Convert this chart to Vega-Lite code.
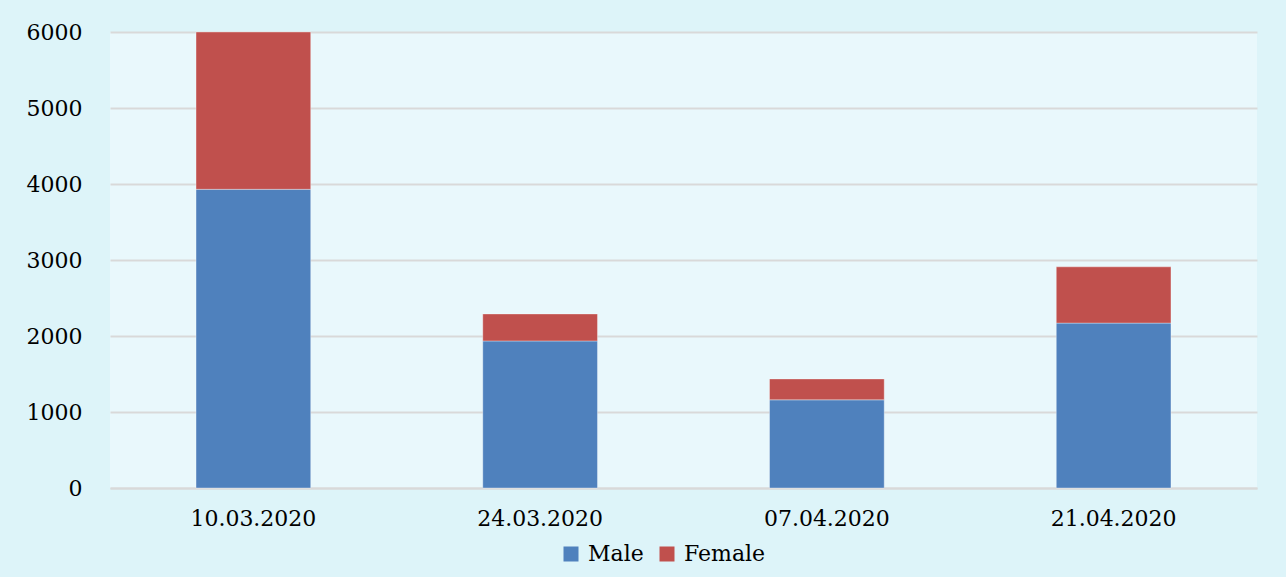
{
  "$schema": "https://vega.github.io/schema/vega-lite/v6.json",
  "width": 1147,
  "height": 456,
  "autosize": {"type": "none"},
  "padding": {"left": 110, "top": 32, "right": 29, "bottom": 89},
  "background": "#ddf4f9",
  "config": {
    "view": {"fill": "#e9f8fc", "stroke": null},
    "font": "DejaVu Serif",
    "axis": {"labelFont": "DejaVu Serif", "labelFontSize": 22, "labelColor": "#000000", "titleFont": "DejaVu Serif"},
    "legend": {"labelFont": "DejaVu Serif", "labelFontSize": 22, "labelColor": "#000000"}
  },
  "data": {
    "values": [
      {"date": "10.03.2020", "sex": "Male", "value": 3930},
      {"date": "10.03.2020", "sex": "Female", "value": 2070},
      {"date": "24.03.2020", "sex": "Male", "value": 1935},
      {"date": "24.03.2020", "sex": "Female", "value": 355},
      {"date": "07.04.2020", "sex": "Male", "value": 1160},
      {"date": "07.04.2020", "sex": "Female", "value": 275},
      {"date": "21.04.2020", "sex": "Male", "value": 2170},
      {"date": "21.04.2020", "sex": "Female", "value": 740}
    ]
  },
  "mark": {"type": "bar", "stroke": "#ffffff", "strokeOpacity": 0.35, "strokeWidth": 1},
  "encoding": {
    "x": {
      "field": "date",
      "type": "nominal",
      "sort": null,
      "title": null,
      "scale": {"paddingInner": 0.6, "paddingOuter": 0.3},
      "axis": {"labelAngle": 0, "ticks": false, "domain": true, "domainColor": "#d9d9d9", "domainWidth": 2, "labelPadding": 20, "grid": false}
    },
    "y": {
      "field": "value",
      "type": "quantitative",
      "stack": "zero",
      "title": null,
      "scale": {"domain": [0, 6000], "nice": false},
      "axis": {"values": [0, 1000, 2000, 3000, 4000, 5000, 6000], "ticks": false, "domain": false, "grid": true, "gridColor": "#d9d9d9", "gridWidth": 2, "labelPadding": 28, "format": "d"}
    },
    "color": {
      "field": "sex",
      "type": "nominal",
      "sort": ["Male", "Female"],
      "scale": {"domain": ["Male", "Female"], "range": ["#4f81bd", "#c0504d"]},
      "legend": {
        "title": null,
        "orient": "none",
        "direction": "horizontal",
        "legendX": 450,
        "legendY": 511,
        "padding": 0,
        "symbolType": "square",
        "symbolSize": 225,
        "symbolStrokeWidth": 0,
        "labelOffset": 6,
        "columnPadding": 12
      }
    },
    "order": {"field": "sex", "sort": "descending"}
  }
}
